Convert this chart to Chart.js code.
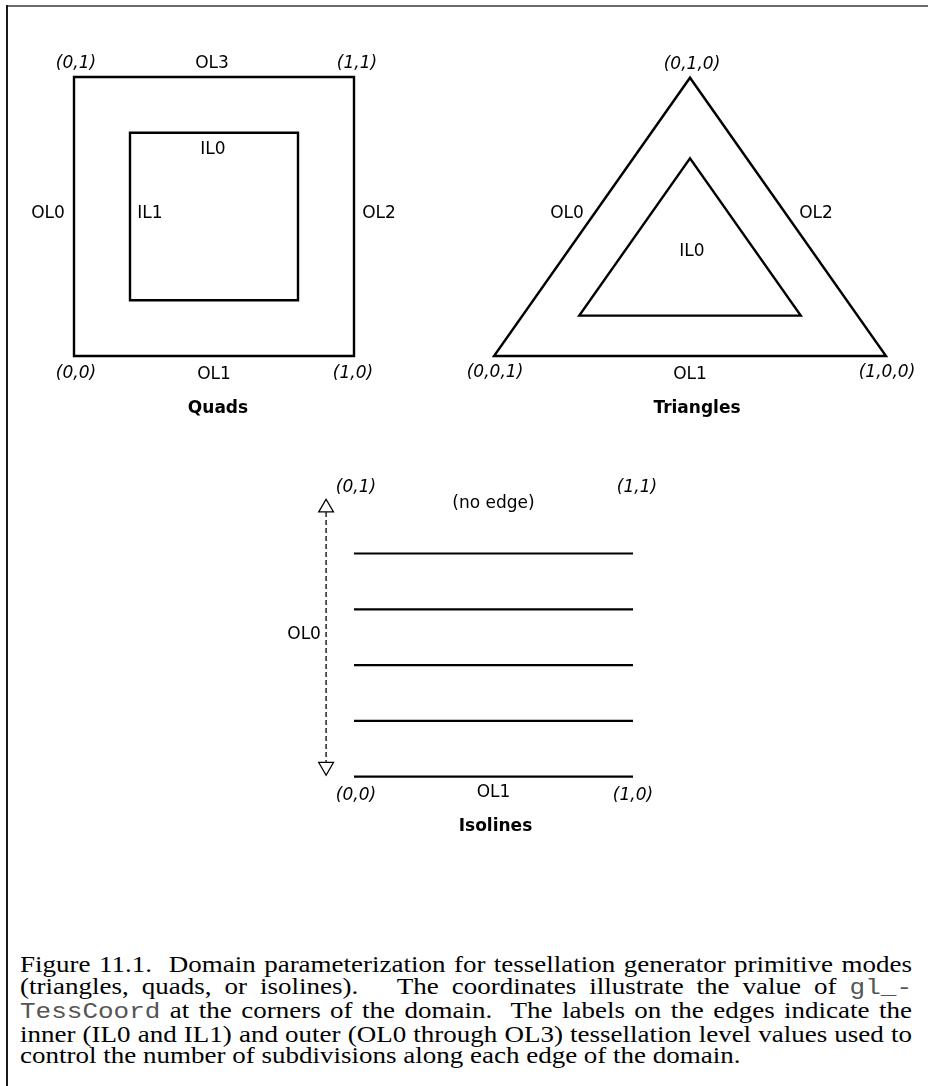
<!DOCTYPE html>
<html>
<head>
<meta charset="utf-8">
<title>Figure 11.1 - tessellation domains</title>
<script src="https://cdn.jsdelivr.net/npm/chart.js@4.4.1/dist/chart.umd.min.js"></script>
<style>
    html, body { margin: 0; padding: 0; background: #fff; }
    #page { position: relative; width: 928px; height: 1086px; overflow: hidden; }
    #frameTop { position: absolute; left: 6px; top: 5px; width: 922px; border-top: 2px solid #6b6b6b; }
    #frameLeft { position: absolute; left: 6px; top: 5px; height: 1081px; border-left: 2px solid #1a1a1a; }
    #diagram { position: absolute; left: 0; top: 0; }
    #caption {
        position: absolute; left: 20px; top: 954px; width: 892px;
        font-family: "Liberation Serif", "Times New Roman", serif;
        font-size: 27px; line-height: 25.6px; color: #000;
        transform: scaleY(0.86); transform-origin: 0 0;
    }
    #caption .ln { white-space: nowrap; text-align: justify; text-align-last: justify; }
    #caption .ln.last { text-align-last: left; }
    #caption code { font-family: "Liberation Mono", "Courier New", monospace; font-size: 26px; color: #555; }
</style>
</head>
<body>
<div id="page">
    <canvas id="diagram" width="928" height="940"></canvas>
    <div id="frameTop"></div>
    <div id="frameLeft"></div>
    <div id="caption">
        <div class="ln">Figure 11.1.&nbsp; Domain parameterization for tessellation generator primitive modes</div>
        <div class="ln">(triangles, quads, or isolines).&nbsp;&nbsp; The coordinates illustrate the value of <code>gl_-</code></div>
        <div class="ln"><code>TessCoord</code> at the corners of the domain.&nbsp; The labels on the edges indicate the</div>
        <div class="ln">inner (IL0 and IL1) and outer (OL0 through OL3) tessellation level values used to</div>
        <div class="ln last">control the number of subdivisions along each edge of the domain.</div>
    </div>
</div>
<script>
// --- domain data (unit coordinates of each domain) ---
const quadOuter = [[0, 0], [1, 0], [1, 1], [0, 1]];
const quadInner = [[0.2, 0.2], [0.8, 0.2], [0.8, 0.8], [0.2, 0.8]];
// triangles in barycentric (u, v, w)
const triOuter = [[0, 0, 1], [1, 0, 0], [0, 1, 0]];
const triInner = [[0.145, 0.145, 0.71], [0.71, 0.145, 0.145], [0.145, 0.71, 0.145]];
// isolines: one line per v level
const isoLevels = [0, 0.2, 0.4, 0.6, 0.8];

// --- text ---
const quadCornerLabels = ['(0,0)', '(1,0)', '(1,1)', '(0,1)'];
const quadEdgeLabels = ['OL0', 'OL1', 'OL2', 'OL3'];
const quadInnerLabels = ['IL0', 'IL1'];
const triCornerLabels = ['(0,0,1)', '(1,0,0)', '(0,1,0)'];
const triEdgeLabels = ['OL0', 'OL1', 'OL2'];
const triInnerLabels = ['IL0'];
const isoCornerLabels = ['(0,0)', '(1,0)', '(1,1)', '(0,1)'];
const isoEdgeLabels = ['OL0', 'OL1', '(no edge)'];
const panelTitles = ['Quads', 'Triangles', 'Isolines'];

// --- layout (pixels) ---
const W = 928, H = 940;
const quadBox = { x: 74, y: 356, w: 280, h: 279 };
const triBox = { x: 494, y: 356, w: 392, h: 278.3 };
const isoBox = { x: 354, y: 776.7, w: 279, h: 279 };
const arrowU = -0.1;
const headR = 8.5;
const labelShiftY = 2;

// label anchors: [u, v, dx, dy] in the same order as the text arrays
const quadCornerAt = [[0, 0, 2, 16], [1, 0, -1, 16], [1, 1, 3, -15], [0, 1, 2, -15]];
const quadEdgeAt = [[0, 0.5, -26, -5], [0.5, 0, 0, 17], [1, 0.5, 25, -5], [0.5, 1, -2, -15]];
const quadInnerAt = [[0.5, 0.8, -1, 15], [0.2, 0.5, 20, -5]];
const triCornerAt = [[[0, 0, 1], 1, 15], [[1, 0, 0], 1, 15], [[0, 1, 0], 2, -15]];
const triEdgeAt = [[[0, 0.5, 0.5], -25, -5], [[0.5, 0, 0.5], 0, 17], [[0.5, 0.5, 0], 28, -5]];
const triInnerAt = [[[1 / 3, 1 / 3, 1 / 3], 2, -14]];
const isoCornerAt = [[0, 0, 2, 17], [1, 0, 0, 17], [1, 1, 4, -12], [0, 1, 2, -12]];
const isoEdgeAt = [[arrowU, 0.5, -22, -5], [0.5, 0, 0, 14], [0.5, 1, 0, 4]];
const titleAt = [[quadBox, 0.5, 4, 51], [triBox, 0.5, 7, 51], [isoBox, 0.5, 2, 48]];

const fontPlain = '17px "DejaVu Sans"';
const fontItalic = 'oblique 17px "DejaVu Sans"';
const fontBold = 'bold 17px "DejaVu Sans"';

function boxPt(box, u, v) {
    return { x: box.x + u * box.w, y: box.y - v * box.h };
}
function baryPt(b) {
    // (1,0,0) bottom right, (0,1,0) apex, (0,0,1) bottom left
    return boxPt(triBox, b[0] + b[1] * 0.5, b[1]);
}
// repeat the first two points so the closing corner gets a proper join
function closed(points) {
    return points.concat([points[0], points[1]]);
}

function lineSet(points, width, extra) {
    return Object.assign({
        data: points,
        showLine: true,
        borderColor: '#000',
        borderWidth: width,
        borderJoinStyle: 'miter',
        borderCapStyle: 'butt',
        pointRadius: 0,
        tension: 0,
        fill: false
    }, extra || {});
}

const datasets = [];
datasets.push(lineSet(closed(quadOuter.map(p => boxPt(quadBox, p[0], p[1]))), 2.4));
datasets.push(lineSet(closed(quadInner.map(p => boxPt(quadBox, p[0], p[1]))), 2.4));
datasets.push(lineSet(closed(triOuter.map(baryPt)), 2.4));
datasets.push(lineSet(closed(triInner.map(baryPt)), 2.4));
isoLevels.forEach(v => {
    datasets.push(lineSet([boxPt(isoBox, 0, v), boxPt(isoBox, 1, v)], 2.2));
});

// dashed OL0 arrow on the isolines domain
const tipTop = boxPt(isoBox, arrowU, 1);
const tipBottom = boxPt(isoBox, arrowU, 0);
tipTop.y += 1.5;
tipBottom.y -= 1.5;
datasets.push(lineSet([
    { x: tipTop.x, y: tipTop.y + headR * 1.5 },
    { x: tipBottom.x, y: tipBottom.y - headR * 1.5 }
], 1.5, { borderColor: '#222', borderDash: [5, 3] }));
datasets.push({
    data: [{ x: tipTop.x, y: tipTop.y + headR }, { x: tipBottom.x, y: tipBottom.y - headR }],
    showLine: false,
    pointStyle: 'triangle',
    pointRadius: headR,
    pointRotation: [0, 180],
    pointBackgroundColor: '#fff',
    pointBorderColor: '#000',
    pointBorderWidth: 1.3
});

// collect all text labels
const labels = [];
function addBoxLabels(box, texts, anchors, font) {
    texts.forEach((t, i) => {
        const a = anchors[i];
        const p = boxPt(box, a[0], a[1]);
        labels.push({ text: t, x: p.x + a[2], y: p.y + a[3], font: font });
    });
}
function addTriLabels(texts, anchors, font) {
    texts.forEach((t, i) => {
        const a = anchors[i];
        const p = baryPt(a[0]);
        labels.push({ text: t, x: p.x + a[1], y: p.y + a[2], font: font });
    });
}
addBoxLabels(quadBox, quadCornerLabels, quadCornerAt, fontItalic);
addBoxLabels(quadBox, quadEdgeLabels, quadEdgeAt, fontPlain);
addBoxLabels(quadBox, quadInnerLabels, quadInnerAt, fontPlain);
addTriLabels(triCornerLabels, triCornerAt, fontItalic);
addTriLabels(triEdgeLabels, triEdgeAt, fontPlain);
addTriLabels(triInnerLabels, triInnerAt, fontPlain);
addBoxLabels(isoBox, isoCornerLabels, isoCornerAt, fontItalic);
addBoxLabels(isoBox, isoEdgeLabels, isoEdgeAt, fontPlain);
panelTitles.forEach((t, i) => {
    const a = titleAt[i];
    const p = boxPt(a[0], a[1], 0);
    labels.push({ text: t, x: p.x + a[2], y: p.y + a[3], font: fontBold });
});

const labelPlugin = {
    id: 'diagramLabels',
    afterDatasetsDraw(chart) {
        const ctx = chart.ctx;
        const sx = chart.scales.x, sy = chart.scales.y;
        ctx.save();
        ctx.fillStyle = '#000';
        ctx.textAlign = 'center';
        ctx.textBaseline = 'middle';
        labels.forEach(l => {
            ctx.font = l.font;
            ctx.fillText(l.text, sx.getPixelForValue(l.x), sy.getPixelForValue(l.y + labelShiftY));
        });
        ctx.restore();
    }
};

new Chart(document.getElementById('diagram').getContext('2d'), {
    type: 'scatter',
    data: { datasets: datasets },
    options: {
        responsive: false,
        animation: false,
        devicePixelRatio: 1,
        events: [],
        layout: { padding: 0, autoPadding: false },
        plugins: { legend: { display: false }, tooltip: { enabled: false } },
        scales: {
            x: { type: 'linear', min: 0, max: W, display: false },
            y: { type: 'linear', min: 0, max: H, reverse: true, display: false }
        }
    },
    plugins: [labelPlugin]
});
</script>
</body>
</html>
